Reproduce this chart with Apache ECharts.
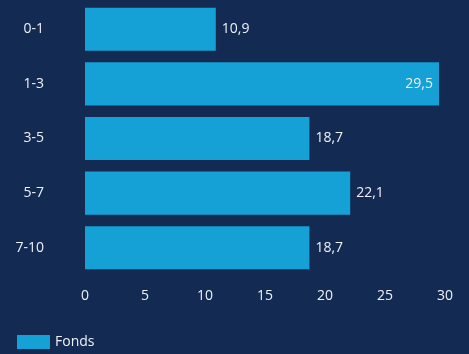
<!DOCTYPE html>
<html>
<head>
<meta charset="utf-8">
<script src="https://cdn.jsdelivr.net/npm/echarts@6/dist/echarts.min.js"></script>
<style>
  html, body { margin: 0; padding: 0; background: #132a52; }
  #chart { width: 469px; height: 354px; }
</style>
</head>
<body>
<div id="chart"></div>
<script>
// data
const categories = ['0-1', '1-3', '3-5', '5-7', '7-10']
const fonds = [10.9, 29.5, 18.7, 22.1, 18.7]
const seriesName = 'Fonds'

const textColor = '#eef1f6'
const barColor = '#15a0d6'
const maxVal = Math.max(...fonds)

const chart = echarts.init(document.getElementById('chart'))
chart.setOption({
  backgroundColor: '#132a52',
  textStyle: { fontFamily: 'Open Sans' },
  animation: false,
  grid: { left: 85, right: 24, top: 2, bottom: 79 },
  legend: {
    data: [{ name: seriesName, icon: 'rect' }],
    left: 12,
    bottom: 0,
    itemWidth: 33,
    itemHeight: 14,
    itemGap: 6,
    textStyle: { color: textColor, fontSize: 14 },
  },
  xAxis: {
    type: 'value',
    min: 0,
    max: 30,
    interval: 5,
    splitLine: { show: false },
    axisLine: { show: false },
    axisTick: { show: false },
    axisLabel: { color: textColor, fontSize: 14, margin: 14 },
  },
  yAxis: {
    type: 'category',
    data: categories,
    inverse: true,
    axisLine: { show: false },
    axisTick: { show: false },
    axisLabel: { color: textColor, fontSize: 14, margin: 41 },
  },
  series: [
    {
      name: seriesName,
      type: 'bar',
      barCategoryGap: '21%',
      itemStyle: { color: barColor },
      data: fonds.map((v) => ({
        value: v,
        label: { position: v === maxVal ? 'insideRight' : 'right' },
      })),
      label: {
        show: true,
        color: textColor,
        fontSize: 14,
        distance: 6,
        formatter: (p) => String(p.value).replace('.', ','),
      },
    },
  ],
})
</script>
</body>
</html>
